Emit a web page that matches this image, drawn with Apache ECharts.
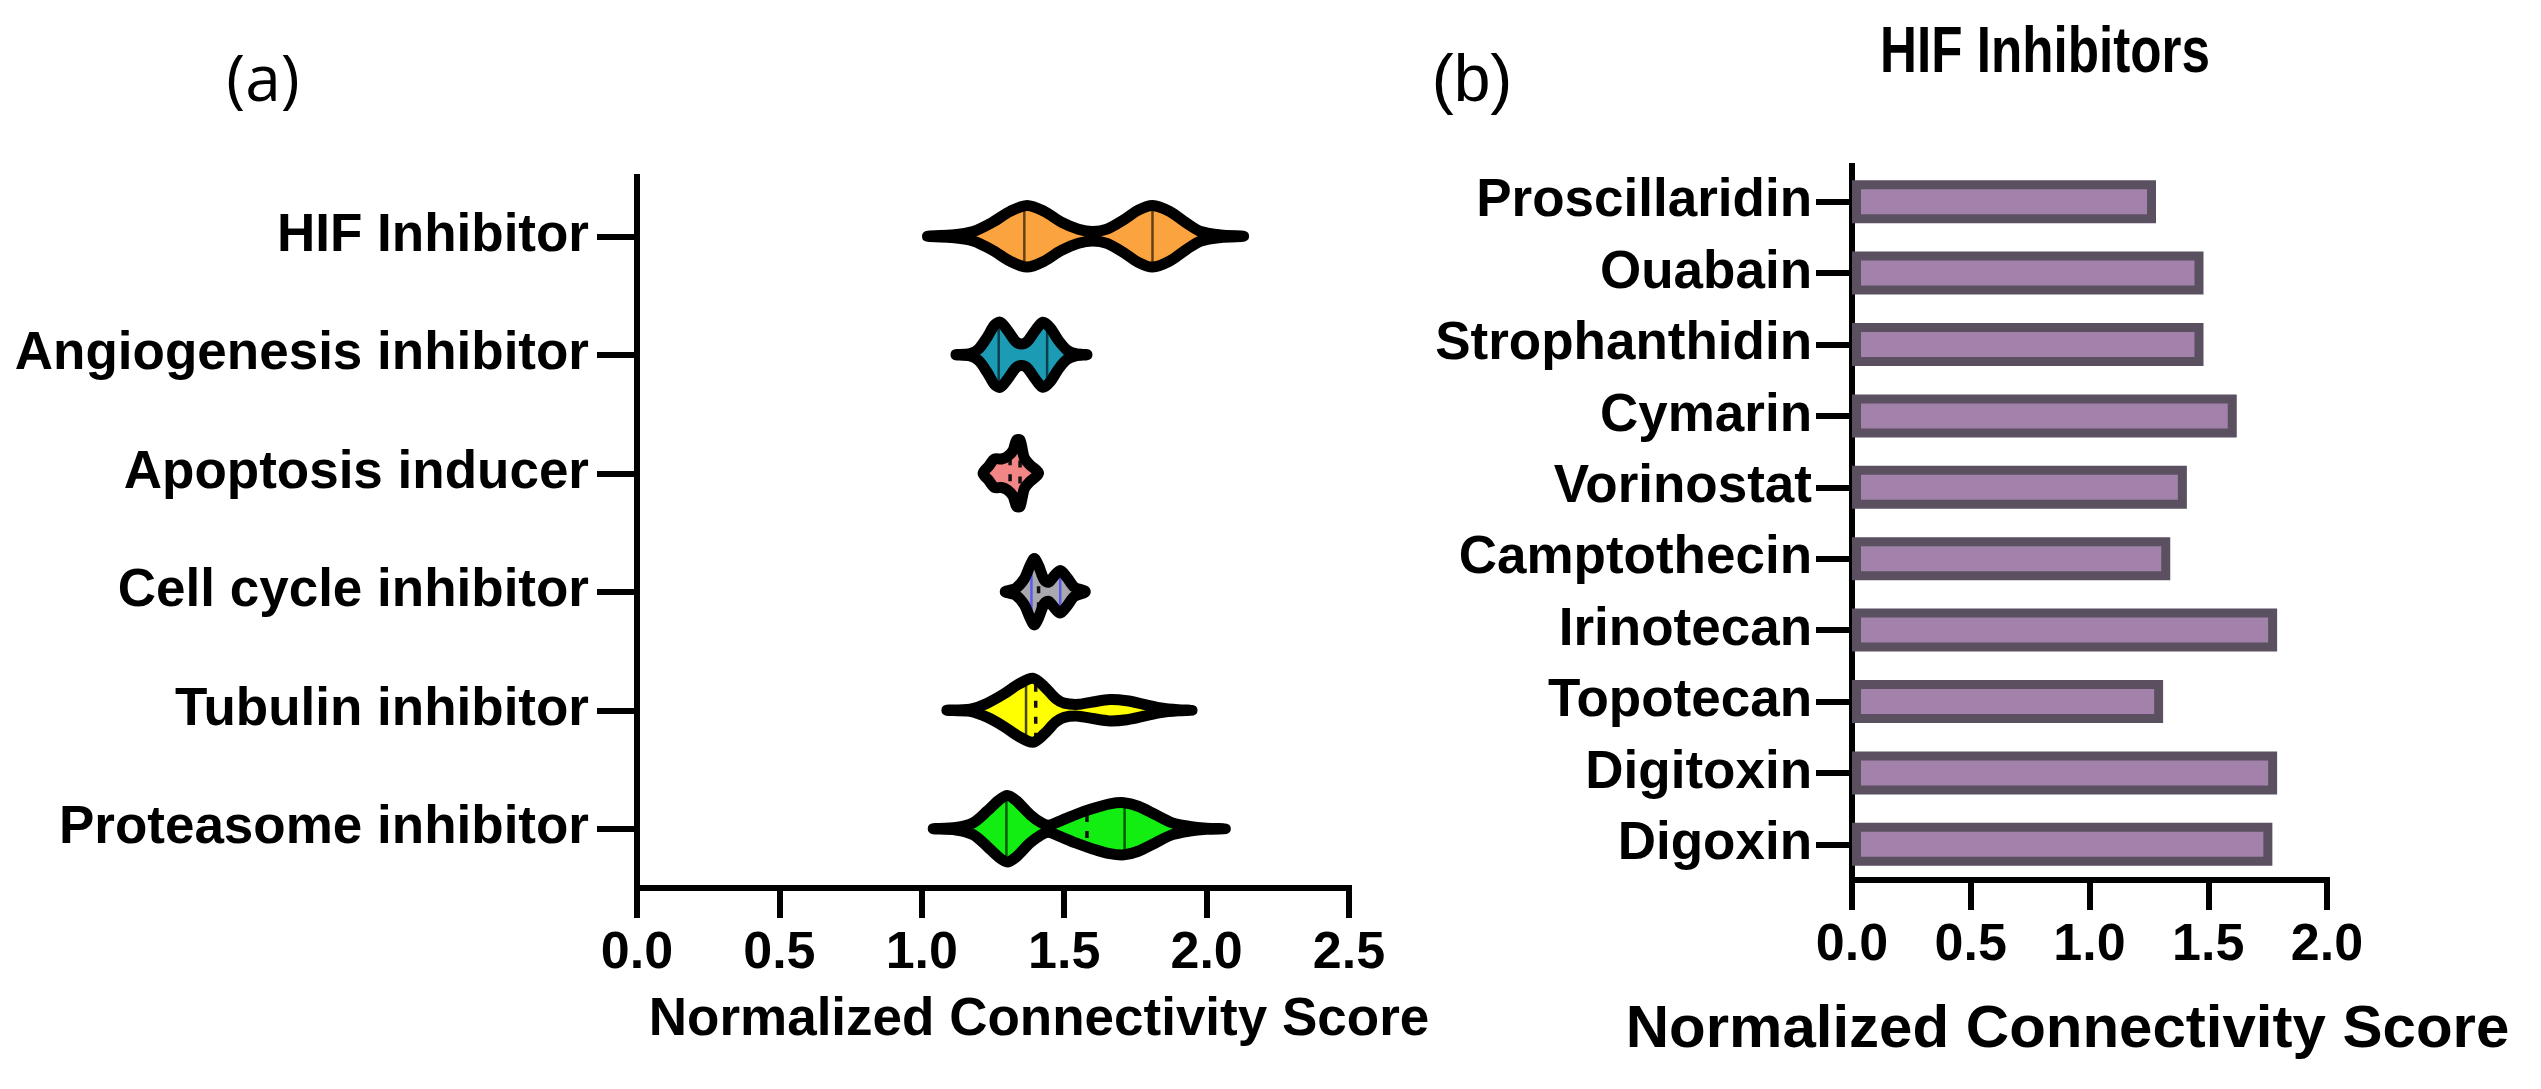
<!DOCTYPE html>
<html><head><meta charset="utf-8">
<script src="https://cdn.jsdelivr.net/npm/echarts@6/dist/echarts.min.js"></script>
<style>html,body{margin:0;padding:0;background:#fff}#c{width:2541px;height:1089px}</style>
</head><body><div id="c"></div>
<script>
// ---------- Panel (a): violin data ----------
const violinCategories = ['HIF Inhibitor', 'Angiogenesis inhibitor', 'Apoptosis inducer', 'Cell cycle inhibitor', 'Tubulin inhibitor', 'Proteasome inhibitor'];
// [score, half-width as fraction of category band]
const hifProfile = [[1.02,0],[1.10,0.01],[1.18,0.04],[1.25,0.12],[1.31,0.21],[1.37,0.26],[1.43,0.21],[1.49,0.12],[1.55,0.06],[1.60,0.04],[1.65,0.06],[1.71,0.14],[1.76,0.22],[1.81,0.26],[1.87,0.21],[1.93,0.11],[1.98,0.04],[2.05,0.01],[2.13,0]];
const angioProfile = [[1.12,0],[1.17,0.01],[1.20,0.05],[1.23,0.15],[1.255,0.25],[1.275,0.275],[1.30,0.21],[1.33,0.11],[1.35,0.09],[1.37,0.11],[1.40,0.21],[1.425,0.275],[1.45,0.23],[1.48,0.12],[1.51,0.04],[1.54,0.01],[1.58,0]];
const apoptosisProfile = [[1.215,0],[1.235,0.06],[1.255,0.12],[1.28,0.12],[1.30,0.14],[1.32,0.19],[1.333,0.28],[1.345,0.28],[1.36,0.13],[1.38,0.07],[1.41,0]];
const cellCycleProfile = [[1.293,0],[1.33,0.03],[1.36,0.11],[1.38,0.22],[1.395,0.28],[1.41,0.22],[1.43,0.1],[1.445,0.08],[1.46,0.12],[1.486,0.18],[1.51,0.12],[1.535,0.04],[1.574,0]];
const tubulinProfile = [[1.088,0],[1.17,0.01],[1.23,0.06],[1.29,0.14],[1.34,0.22],[1.39,0.27],[1.43,0.2],[1.47,0.1],[1.50,0.06],[1.55,0.05],[1.60,0.07],[1.66,0.09],[1.72,0.08],[1.78,0.05],[1.84,0.02],[1.90,0.005],[1.949,0]];
const proteasomeProfile = [[1.04,0],[1.12,0.01],[1.18,0.05],[1.23,0.15],[1.27,0.24],[1.30,0.28],[1.33,0.24],[1.38,0.12],[1.42,0.05],[1.445,0.03],[1.48,0.06],[1.54,0.12],[1.60,0.17],[1.66,0.21],[1.71,0.22],[1.76,0.19],[1.82,0.12],[1.88,0.05],[1.94,0.02],[2.00,0.005],[2.066,0]];
const violinProfiles = [hifProfile, angioProfile, apoptosisProfile, cellCycleProfile, tubulinProfile, proteasomeProfile];
// quartile / median marks
const violinSolidLines = [[1.36, 1.81], [1.27, 1.44], [], [1.385, 1.486], [1.366], [1.297, 1.712]];
const violinDottedLines = [[], [], [1.31, 1.345], [1.41], [1.40], [1.58]];
const xTicksA = { min: 0, max: 2.5, step: 0.5 };

// ---------- Panel (b): bar data ----------
const barCategories = ['Proscillaridin', 'Ouabain', 'Strophanthidin', 'Cymarin', 'Vorinostat', 'Camptothecin', 'Irinotecan', 'Topotecan', 'Digitoxin', 'Digoxin'];
const barValues = [1.28, 1.48, 1.48, 1.62, 1.41, 1.34, 1.79, 1.31, 1.79, 1.77];
const xTicksB = { min: 0, max: 2.0, step: 0.5 };

// ---------- styles ----------
const FONT = '"Liberation Sans", Arial, Helvetica, sans-serif';
const violinFill = ['#FBA33E', '#1B9BB4', '#F28585', '#A8A8AE', '#FFFF00', '#12EE12'];
const violinMark = ['rgba(60,40,10,0.8)', 'rgba(10,40,50,0.8)', 'rgba(60,10,10,0.8)', '#5A5AF0', 'rgba(40,40,0,0.85)', 'rgba(0,50,0,0.8)'];
const OUTLINE = 11;

function halfAt(profile, x) {
  for (let i = 0; i < profile.length - 1; i++) {
    const a = profile[i], b = profile[i + 1];
    if (x >= a[0] && x <= b[0]) return a[1] + (b[1] - a[1]) * (x - a[0]) / (b[0] - a[0]);
  }
  return 0;
}

function renderViolin(params, api) {
  const idx = api.value(1);
  const profile = violinProfiles[idx];
  const band = api.size([0, 1])[1];
  const cy = api.coord([0, idx])[1];
  const top = profile.map(p => [api.coord([p[0], idx])[0], cy - p[1] * band]);
  const bottom = profile.slice(1, -1).reverse().map(p => [api.coord([p[0], idx])[0], cy + p[1] * band]);
  const pts = top.concat(bottom);
  const children = [{
    type: 'polygon', shape: { points: pts, smooth: 0.3 },
    style: { fill: violinFill[idx], stroke: null }
  }];
  violinSolidLines[idx].forEach(x => {
    const px = api.coord([x, idx])[0];
    const h = Math.max(0, halfAt(profile, x) * band - OUTLINE / 2 + 1);
    children.push({ type: 'line', shape: { x1: px, y1: cy - h, x2: px, y2: cy + h },
      style: { stroke: violinMark[idx], lineWidth: 2.5 } });
  });
  violinDottedLines[idx].forEach(x => {
    const px = api.coord([x, idx])[0];
    const h = Math.max(0, halfAt(profile, x) * band - OUTLINE / 2 + 1);
    children.push({ type: 'line', shape: { x1: px, y1: cy - h, x2: px, y2: cy + h },
      style: { stroke: '#111', lineWidth: 3.5, lineDash: [7, 9] } });
  });
  children.push({
    type: 'polygon', shape: { points: pts, smooth: 0.3 },
    style: { fill: null, stroke: '#000', lineWidth: OUTLINE, lineJoin: 'round' }
  });
  return { type: 'group', children };
}

const axisLineStyle = { show: true, lineStyle: { color: '#000', width: 6, cap: 'square' } };
const tickStyle = { show: true, length: 30, lineStyle: { color: '#000', width: 6 } };
const valueLabel = { fontSize: 52, fontWeight: 'bold', color: '#000', fontFamily: FONT, margin: 40,
  showMinLabel: true, showMaxLabel: true, formatter: v => v.toFixed(1) };
const catLabel = { fontWeight: 'bold', color: '#000', fontFamily: FONT, interval: 0 };

const chart = echarts.init(document.getElementById('c'), null, { renderer: 'canvas' });
chart.setOption({
  backgroundColor: '#fff',
  animation: false,
  grid: [
    { left: 637, right: 1192, top: 177, bottom: 201 },
    { left: 1852, right: 214, top: 166, bottom: 209 }
  ],
  xAxis: [
    { gridIndex: 0, type: 'value', min: xTicksA.min, max: xTicksA.max, interval: xTicksA.step,
      axisLine: axisLineStyle, axisTick: tickStyle, splitLine: { show: false }, axisLabel: valueLabel,
      name: 'Normalized Connectivity Score', nameLocation: 'middle', nameGap: 106,
      nameTextStyle: { fontSize: 53, fontWeight: 'bold', color: '#000', fontFamily: FONT, padding: [0, 0, 0, 92] } },
    { gridIndex: 1, type: 'value', min: xTicksB.min, max: xTicksB.max, interval: xTicksB.step,
      axisLine: axisLineStyle, axisTick: tickStyle, splitLine: { show: false }, axisLabel: valueLabel,
      name: 'Normalized Connectivity Score', nameLocation: 'middle', nameGap: 120,
      nameTextStyle: { fontSize: 60, fontWeight: 'bold', color: '#000', fontFamily: FONT, padding: [0, 44, 0, 0] } }
  ],
  yAxis: [
    { gridIndex: 0, type: 'category', data: violinCategories, inverse: true,
      axisLine: axisLineStyle, axisTick: Object.assign({ alignWithLabel: true }, tickStyle, { length: 40 }),
      axisLabel: Object.assign({ margin: 48, fontSize: 53 }, catLabel), splitLine: { show: false } },
    { gridIndex: 1, type: 'category', data: barCategories, inverse: true,
      axisLine: axisLineStyle, axisTick: Object.assign({ alignWithLabel: true }, tickStyle, { length: 36 }),
      axisLabel: Object.assign({ margin: 40, fontSize: 53 }, catLabel), splitLine: { show: false } }
  ],
  series: [
    { type: 'custom', xAxisIndex: 0, yAxisIndex: 0, clip: false,
      data: violinCategories.map((c, i) => [violinProfiles[i][0][0], i]),
      encode: { x: 0, y: 1 }, renderItem: renderViolin },
    { type: 'bar', xAxisIndex: 1, yAxisIndex: 1, data: barValues, barWidth: 43,
      itemStyle: { color: '#A281AA', borderColor: '#5A5060', borderWidth: 9 } }
  ],
  graphic: [
    { type: 'text', x: 263, y: 83, style: { text: '(a)', font: '64px "Open Sans", "Noto Sans", sans-serif', fill: '#000', textAlign: 'center', textVerticalAlign: 'middle' } },
    { type: 'text', x: 1472, y: 83, style: { text: '(b)', font: '66px ' + FONT, fill: '#000', textAlign: 'center', textVerticalAlign: 'middle' } },
    { type: 'text', x: 2045, y: 54, scaleX: 0.8, style: { text: 'HIF Inhibitors', font: 'bold 64px ' + FONT, fill: '#000', textAlign: 'center', textVerticalAlign: 'middle' } }
  ]
});
</script>
</body></html>
